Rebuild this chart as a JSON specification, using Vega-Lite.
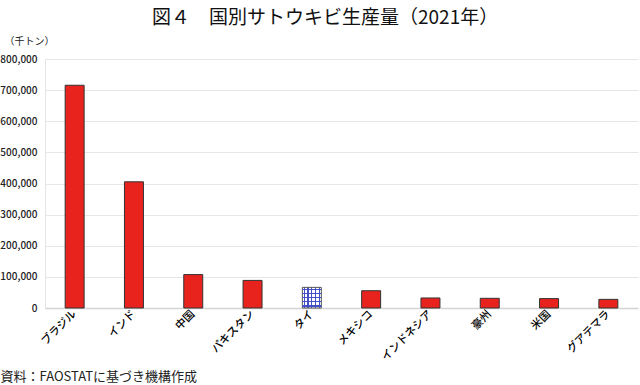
{
  "$schema": "https://vega.github.io/schema/vega-lite/v6.json",
  "width": 593,
  "height": 249,
  "autosize": {"type": "none"},
  "padding": {"left": 45, "top": 59, "right": 2, "bottom": 77},
  "background": "white",
  "title": {
    "text": "図４　国別サトウキビ生産量（2021年）",
    "anchor": "start",
    "frame": "group",
    "dx": 107,
    "offset": 8,
    "fontSize": 19,
    "font": "Noto Sans CJK JP",
    "fontWeight": "normal",
    "color": "#111"
  },
  "config": {
    "view": {"stroke": null},
    "font": "Noto Sans CJK JP"
  },
  "data": {
    "values": [
      {"country": "ブラジル", "value": 715660, "hl": "n"},
      {"country": "インド", "value": 405399, "hl": "n"},
      {"country": "中国", "value": 107284, "hl": "n"},
      {"country": "パキスタン", "value": 88651, "hl": "n"},
      {"country": "タイ", "value": 66279, "hl": "y"},
      {"country": "メキシコ", "value": 55485, "hl": "n"},
      {"country": "インドネシア", "value": 32200, "hl": "n"},
      {"country": "豪州", "value": 31133, "hl": "n"},
      {"country": "米国", "value": 30200, "hl": "n"},
      {"country": "グアテマラ", "value": 27800, "hl": "n"}
    ]
  },
  "encoding": {
    "x": {
      "field": "country",
      "type": "nominal",
      "sort": ["ブラジル", "インド", "中国", "パキスタン", "タイ", "メキシコ", "インドネシア", "豪州", "米国", "グアテマラ"],
      "scale": {"paddingInner": 0.68, "paddingOuter": 0.34},
      "axis": {
        "title": "資料：FAOSTATに基づき機構作成",
        "titleAnchor": "start",
        "titleAlign": "left",
        "titleX": -45,
        "titleY": 68,
        "titleBaseline": "middle",
        "titleFontSize": 13,
        "titleFontWeight": "normal",
        "titleColor": "#222",
        "labelAngle": -45,
        "labelAlign": "right",
        "labelBaseline": "middle",
        "labelFontSize": 11,
        "labelFontWeight": 500,
        "labelColor": "#000",
        "labelPadding": 4,
        "ticks": false,
        "domainColor": "#d4d4d4",
        "domainWidth": 1.5
      }
    },
    "y": {
      "field": "value",
      "type": "quantitative",
      "scale": {"domain": [0, 800000], "nice": false},
      "axis": {
        "values": [0, 100000, 200000, 300000, 400000, 500000, 600000, 700000, 800000],
        "format": ",d",
        "title": "（千トン）",
        "titleAngle": 0,
        "titleAlign": "left",
        "titleAnchor": "end",
        "titleX": -41,
        "titleY": -13,
        "titleBaseline": "bottom",
        "titleFontSize": 10,
        "titleFontWeight": "normal",
        "titleColor": "#222",
        "labelFontSize": 10,
        "labelFontWeight": 500,
        "labelColor": "#222",
        "labelPadding": 8,
        "ticks": false,
        "domain": true,
        "domainColor": "#e6e6e6",
        "gridColor": "#e6e6e6",
        "gridWidth": 1.2
      }
    }
  },
  "layer": [
    {
      "transform": [{"filter": "datum.hl == 'n'"}],
      "mark": {"type": "bar", "fill": "#E8231E", "stroke": "#333", "strokeWidth": 1}
    },
    {
      "transform": [{"filter": "datum.hl == 'y'"}],
      "mark": {
        "type": "bar",
        "stroke": "#555",
        "strokeWidth": 1,
        "fill": {
          "gradient": "linear",
          "x1": 0, "y1": 0, "x2": 1, "y2": 0,
          "stops": [
            {"offset": 0, "color": "#ffffff"},
            {"offset": 0.07, "color": "#ffffff"},
            {"offset": 0.07, "color": "#4450c8"},
            {"offset": 0.13, "color": "#4450c8"},
            {"offset": 0.13, "color": "#ffffff"},
            {"offset": 0.27, "color": "#ffffff"},
            {"offset": 0.27, "color": "#4450c8"},
            {"offset": 0.33, "color": "#4450c8"},
            {"offset": 0.33, "color": "#ffffff"},
            {"offset": 0.47, "color": "#ffffff"},
            {"offset": 0.47, "color": "#4450c8"},
            {"offset": 0.53, "color": "#4450c8"},
            {"offset": 0.53, "color": "#ffffff"},
            {"offset": 0.67, "color": "#ffffff"},
            {"offset": 0.67, "color": "#4450c8"},
            {"offset": 0.73, "color": "#4450c8"},
            {"offset": 0.73, "color": "#ffffff"},
            {"offset": 0.87, "color": "#ffffff"},
            {"offset": 0.87, "color": "#4450c8"},
            {"offset": 0.93, "color": "#4450c8"},
            {"offset": 0.93, "color": "#ffffff"},
            {"offset": 1, "color": "#ffffff"}
          ]
        }
      }
    },
    {
      "transform": [{"filter": "datum.hl == 'y'"}],
      "mark": {
        "type": "bar",
        "strokeWidth": 0,
        "fill": {
          "gradient": "linear",
          "x1": 0, "y1": 0, "x2": 0, "y2": 1,
          "stops": [
            {"offset": 0, "color": "rgba(68,80,200,0)"},
            {"offset": 0.07, "color": "rgba(68,80,200,0)"},
            {"offset": 0.07, "color": "rgba(68,80,200,1)"},
            {"offset": 0.13, "color": "rgba(68,80,200,1)"},
            {"offset": 0.13, "color": "rgba(68,80,200,0)"},
            {"offset": 0.27, "color": "rgba(68,80,200,0)"},
            {"offset": 0.27, "color": "rgba(68,80,200,1)"},
            {"offset": 0.33, "color": "rgba(68,80,200,1)"},
            {"offset": 0.33, "color": "rgba(68,80,200,0)"},
            {"offset": 0.47, "color": "rgba(68,80,200,0)"},
            {"offset": 0.47, "color": "rgba(68,80,200,1)"},
            {"offset": 0.53, "color": "rgba(68,80,200,1)"},
            {"offset": 0.53, "color": "rgba(68,80,200,0)"},
            {"offset": 0.67, "color": "rgba(68,80,200,0)"},
            {"offset": 0.67, "color": "rgba(68,80,200,1)"},
            {"offset": 0.73, "color": "rgba(68,80,200,1)"},
            {"offset": 0.73, "color": "rgba(68,80,200,0)"},
            {"offset": 0.87, "color": "rgba(68,80,200,0)"},
            {"offset": 0.87, "color": "rgba(68,80,200,1)"},
            {"offset": 0.93, "color": "rgba(68,80,200,1)"},
            {"offset": 0.93, "color": "rgba(68,80,200,0)"},
            {"offset": 1, "color": "rgba(68,80,200,0)"}
          ]
        }
      }
    }
  ]
}
